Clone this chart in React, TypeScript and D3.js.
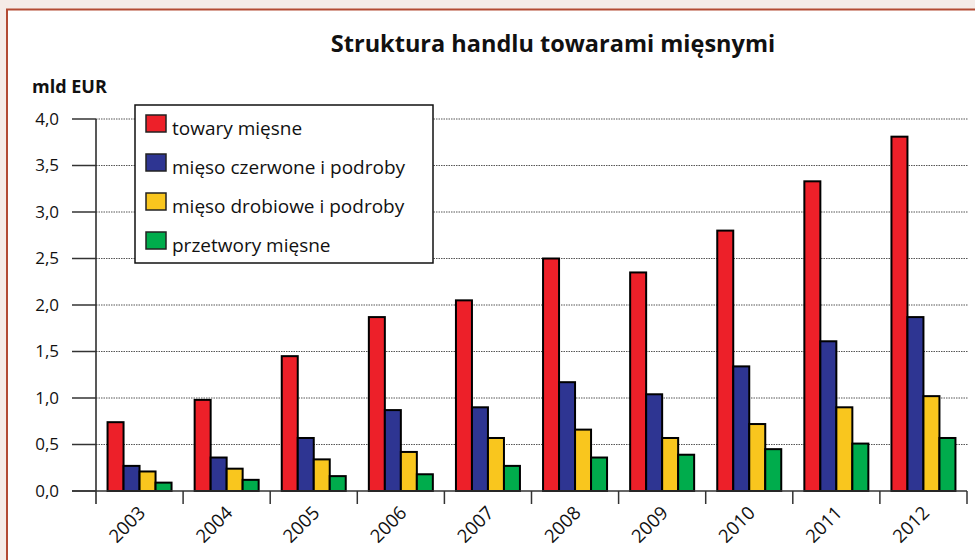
import React from 'react';
import * as d3 from 'd3';

const years = ['2003', '2004', '2005', '2006', '2007', '2008', '2009', '2010', '2011', '2012'];
const seriesNames = ['towary mięsne', 'mięso czerwone i podroby', 'mięso drobiowe i podroby', 'przetwory mięsne'];
const towary = [0.74, 0.98, 1.45, 1.87, 2.05, 2.5, 2.35, 2.8, 3.33, 3.81];
const czerwone = [0.27, 0.36, 0.57, 0.87, 0.9, 1.17, 1.04, 1.34, 1.61, 1.87];
const drobiowe = [0.21, 0.24, 0.34, 0.42, 0.57, 0.66, 0.57, 0.72, 0.9, 1.02];
const przetwory = [0.09, 0.12, 0.16, 0.18, 0.27, 0.36, 0.39, 0.45, 0.51, 0.57];
const yTicks = [0, 0.5, 1, 1.5, 2, 2.5, 3, 3.5, 4];
const colors = ['#ed2029', '#2e3592', '#f9c61e', '#00ac4c'];

const font = "'Open Sans', 'Noto Sans', sans-serif";

const App = () => {
  const width = 975;
  const height = 560;
  const left = 96;
  const right = 967;
  const baseline = 491;

  const x = d3.scaleBand().domain(years).range([left, right]).paddingInner(0).paddingOuter(0);
  const y = d3.scaleLinear().domain([0, 4]).range([baseline, 119]);
  const series = [towary, czerwone, drobiowe, przetwory];
  const inner = d3.scaleBand().domain(d3.range(4).map(String)).range([0, 64]);
  const groupOffset = (x.bandwidth() - 64) / 2;
  const fmt = (v: number) => d3.format('.1f')(v).replace('.', ',');

  return (
    <svg width={width} height={height} style={{ position: 'absolute', left: 0, top: 0 }}>
      <rect x={0} y={0} width={width} height={height} fill="#f5ebe7" />
      <rect x={7} y={9.5} width={width + 10} height={height + 10} fill="#fff" stroke="#b34a33" strokeWidth={2} />

      <text x={553} y={52} textAnchor="middle" fontFamily={font} fontWeight="bold" fontSize={23.5} fill="#111">
        Struktura handlu towarami mięsnymi
      </text>
      <text x={32} y={93} fontFamily={font} fontWeight="bold" fontSize={18} fill="#111">
        mld EUR
      </text>

      {/* grid */}
      {yTicks.filter((t) => t > 0).map((t) => (
        <line key={'g' + t} x1={left} x2={968} y1={y(t)} y2={y(t)} stroke="#555" strokeWidth={1} strokeDasharray="1.5,1" />
      ))}

      {/* y axis */}
      <line x1={left} x2={left} y1={y(4)} y2={504} stroke="#222" strokeWidth={1.5} />
      {yTicks.map((t) => (
        <g key={'t' + t}>
          <line x1={72} x2={left} y1={y(t)} y2={y(t)} stroke="#333" strokeWidth={1.5} />
          <text x={59} y={y(t)} dy="0.35em" textAnchor="end" fontFamily={font} fontSize={17} fill="#111">
            {fmt(t)}
          </text>
        </g>
      ))}

      {/* bars */}
      {years.map((yr, i) => (
        <g key={yr} transform={`translate(${(x(yr) as number) + groupOffset},0)`}>
          {series.map((s, k) => (
            <rect
              key={k}
              x={inner(String(k)) as number}
              y={y(s[i])}
              width={inner.bandwidth()}
              height={baseline - y(s[i])}
              fill={colors[k]}
              stroke="#000"
              strokeWidth={2}
            />
          ))}
        </g>
      ))}

      {/* x axis */}
      <line x1={72} x2={right} y1={baseline} y2={baseline} stroke="#333" strokeWidth={1.5} />
      {years.map((yr) => (
        <line key={'xt' + yr} x1={(x(yr) as number) + x.bandwidth()} x2={(x(yr) as number) + x.bandwidth()} y1={baseline} y2={504} stroke="#333" strokeWidth={1.5} />
      ))}
      {years.map((yr) => {
        const cx = (x(yr) as number) + x.bandwidth() / 2 + 7;
        return (
          <text key={'xl' + yr} transform={`translate(${cx},514) rotate(-45)`} textAnchor="end" fontFamily={font} fontSize={18.5} fill="#111">
            {yr}
          </text>
        );
      })}

      {/* legend */}
      <rect x={135} y={105} width={298} height={158} fill="#fff" stroke="#111" strokeWidth={1.5} />
      {seriesNames.map((n, k) => (
        <g key={n} transform={`translate(146,${115 + k * 39})`}>
          <rect x={0} y={0} width={20} height={17} fill={colors[k]} stroke="#222" strokeWidth={1.5} />
          <text x={26} y={20} fontFamily={font} fontSize={19} fill="#111">
            {n}
          </text>
        </g>
      ))}
    </svg>
  );
};

export default App;
